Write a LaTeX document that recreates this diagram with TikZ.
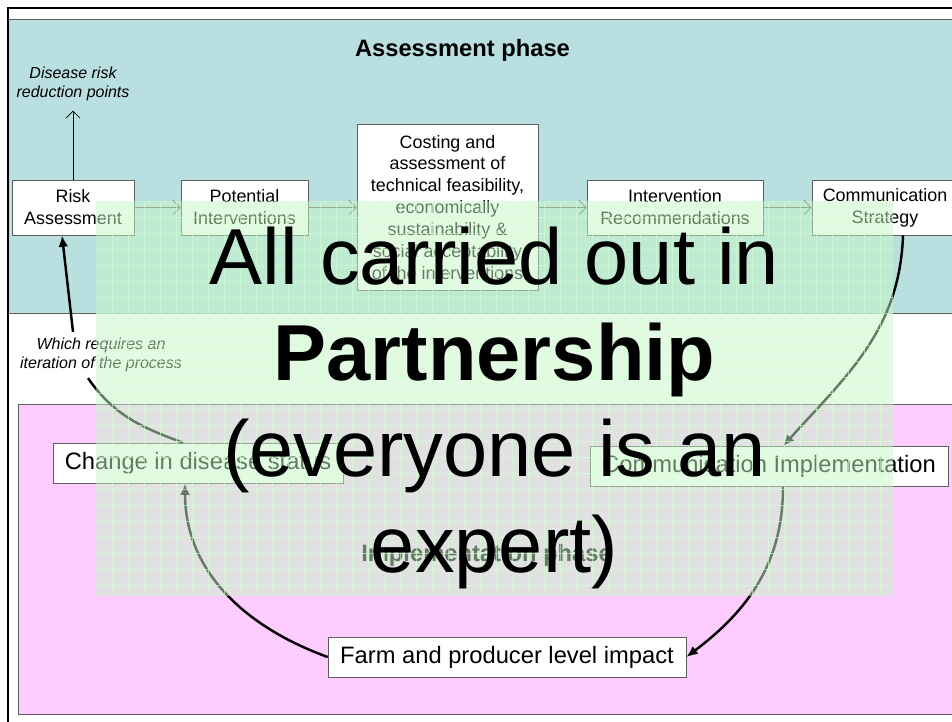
\documentclass[tikz,border=0pt]{standalone}
\usepackage{fontspec}
\setmainfont{Liberation Sans}
\usepackage{tikz}
\usetikzlibrary{arrows.meta, positioning, calc}
\usepackage{xcolor}
\definecolor{phaseblue}{HTML}{B9DFE1}
\definecolor{phasepink}{HTML}{FFCCFF}
\definecolor{rimgray}{HTML}{5E5E5E}
\definecolor{linkgray}{HTML}{5A5A5A}
\definecolor{veilgreen}{HTML}{C6F7C6}
\definecolor{veilgrid}{HTML}{D2FFD2}

\begin{document}
\begin{tikzpicture}[x=0.02cm, y=-0.02cm,
  stepbox/.style={rectangle, draw=rimgray, fill=white, align=center,
    font=\fontsize{10.2}{12.5}\selectfont, minimum height=1.1cm, inner sep=2pt},
  statebox/.style={rectangle, draw=rimgray, fill=white,
    font=\fontsize{13.5}{16}\selectfont, minimum height=0.8cm, inner sep=2pt},
  note/.style={align=center, font=\fontsize{9.1}{10.8}\selectfont\itshape},
  phase/.style={font=\fontsize{13.5}{16}\selectfont\bfseries},
  flow/.style={-{Straight Barb[length=4pt,width=8pt]}, linkgray, thin},
  loop/.style={-{Latex[length=6.5pt,width=5.5pt]}, line width=1.4pt},
]
  \useasboundingbox (0,0) rectangle (952,721);
  \clip (0,0) rectangle (952,721);
  \fill[white] (0,0) rectangle (952,721);

  % phase bands and frame
  \draw[rimgray, fill=phaseblue] (8,19) rectangle (960,313);
  \draw[rimgray, fill=phasepink] (18,404) rectangle (960,714);
  \draw[line width=1.6pt] (8,8) rectangle (975,740);

  \node[phase] (assess) at (462.5,50) {Assessment phase};
  \node[phase] (implphase) at (486.5,555) {Implementation phase};

  \node[stepbox, minimum width=2.44cm] (risk) at (73,207.5) {Risk\\Assessment};
  \node[stepbox, minimum width=2.54cm] (potential) at (244.5,207.5) {Potential\\Interventions};
  \node[stepbox, minimum width=3.62cm, minimum height=3.32cm] (costing) at (447.5,207.5)
    {Costing and\\assessment of\\technical feasibility,\\economically\\sustainability \&\\social acceptability\\of the interventions};
  \node[stepbox, minimum width=3.52cm] (recommend) at (675,207.5) {Intervention\\Recommendations};
  \node[stepbox, minimum width=2.92cm] (strategy) at (885,207.5) {Communication\\Strategy};

  \node[statebox, minimum width=5.8cm] (status) at (198,463) {Change in disease status};
  \node[statebox, minimum width=7.16cm] (implement) at (769,466.5) {Communication Implementation};
  \node[statebox, minimum width=7.16cm] (impact) at (507,657) {Farm and producer level impact};

  \node[note] (points) at (73,84) {Disease risk\\reduction points};
  \node[note] (iteration) at (101,355) {Which requires an\\iteration of the process};

  \draw[flow] (risk) -- (potential);
  \draw[flow] (potential) -- (costing);
  \draw[flow] (costing) -- (recommend);
  \draw[flow] (recommend) -- (strategy);
  \draw[flow, black] (risk.north) -- ([yshift=-2pt]points.south);

  \draw[line width=1.4pt] ([xshift=-0.3cm]status.north) to[out=160,in=-55] ([xshift=-0.26cm]iteration.south);
  \draw[loop] ([xshift=-0.56cm]iteration.north) -- ([xshift=-0.22cm]risk.south);
  \draw[loop] ([xshift=0.36cm]strategy.south) to[out=-92,in=48] ([xshift=0.28cm]implement.north);
  \draw[loop] ([xshift=0.28cm]implement.south) to[out=-90,in=37] (impact.east);
  \draw[loop] (impact.west) to[out=160,in=-90] ([xshift=-0.26cm]status.south);

  % translucent panel on top
  \fill[veilgreen, fill opacity=0.5] (96,201) rectangle (893,596);
  \foreach \gx in {112,128,...,880}
    \draw[veilgrid, opacity=0.6, line width=0.5pt] (\gx,201) -- (\gx,596);
  \foreach \gy in {217,233,...,585}
    \draw[veilgrid, opacity=0.6, line width=0.5pt] (96,\gy) -- (893,\gy);

  \node[align=center, font=\fontsize{45.2}{54.5}\selectfont] (motto) at (494.5,408)
    {All carried out in\\\textbf{Partnership}\\(everyone is an\\expert)};
\end{tikzpicture}
\end{document}
